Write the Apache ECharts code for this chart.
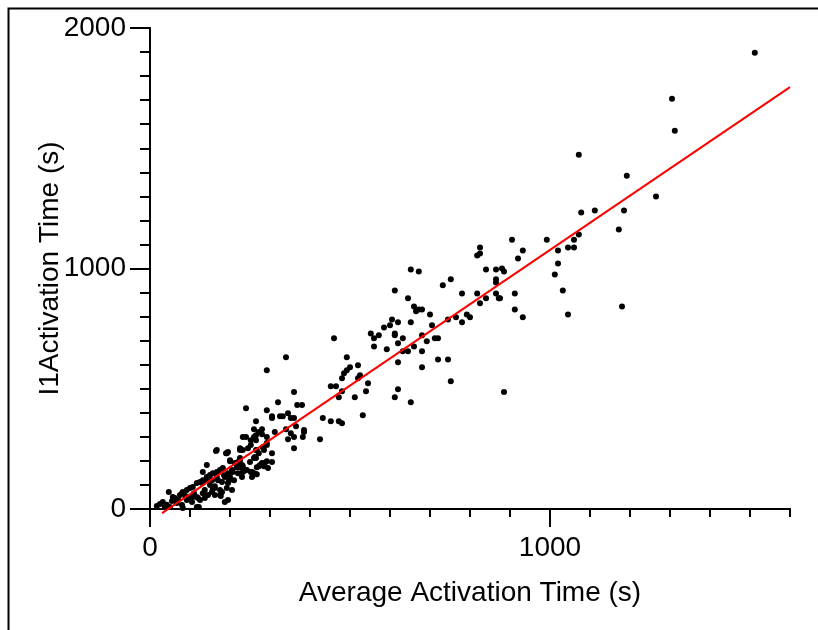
<!DOCTYPE html>
<html>
<head>
<meta charset="utf-8">
<script src="https://cdn.jsdelivr.net/npm/echarts/dist/echarts.min.js"></script>
<style>
html,body{margin:0;padding:0;background:#fff;}
#chart{width:818px;height:630px;}
</style>
</head>
<body>
<div id="chart"></div>
<script>
// Average activation time (x) and I1 activation time (y), in seconds
const avgActivation = [
  1512,1305,1312,1072,1192,1265,1185,1112,1078,1172,
  1072,1060,1060,1045,992,1020,1020,1012,1032,1045,
  1180,905,932,920,880,885,875,912,912,932,
  885,825,818,825,840,865,865,865,818,825,
  840,865,872,732,752,780,745,765,780,792,
  800,705,700,652,672,612,645,660,665,680,
  672,605,620,585,600,552,572,560,612,612,
  632,652,680,712,720,692,620,592,560,660,
  632,645,680,620,680,720,745,752,460,492,
  500,485,480,520,525,520,545,452,465,472,
  480,512,540,620,612,652,532,432,452,472,
  480,380,385,340,292,240,492,360,320,368,
  292,305,305,325,332,345,352,360,265,280,
  272,280,260,312,340,352,345,360,385,382,
  365,425,360,292,260,265,252,232,240,232,
  245,252,265,272,292,285,305,260,265,280,
  292,272,285,232,232,252,265,225,225,225,
  265,165,190,200,47,32,25,17,37,50,
  62,75,82,92,100,107,117,125,132,142,
  150,157,167,175,182,67,80,82,92,105,
  117,125,132,137,117,145,155,162,162,175,
  180,192,195,195,200,207,212,220,225,237,
  230,255,187,142,132,122,205,177,157,197,
  217,220,235,260,267,55,70,88,110,42,
  97,150,170,185,210,57,80,107,120,137,
  130,142,155,167,175,162,180,187,195,205,
  200,192,195,167,217,225,230,250,242,255,
  267,275,262,267,282,292,287,295,305
];
const l1Activation = [
  1897,1706,1573,1473,1386,1299,1241,1241,1233,1162,
  1141,1120,1087,1087,1120,1075,1021,975,909,809,
  842,1120,1075,1042,1000,988,876,896,830,797,
  486,1087,1054,1062,996,996,955,942,896,855,
  876,896,876,930,955,896,788,797,776,809,
  797,764,809,996,988,909,876,842,822,830,
  830,788,776,755,764,730,722,710,730,722,
  710,776,722,710,710,697,689,664,676,676,
  656,656,656,610,589,622,622,531,710,631,
  589,564,544,598,556,544,523,510,510,465,
  490,465,490,498,465,444,390,378,365,365,
  357,432,328,631,577,419,577,486,444,432,
  411,386,378,386,386,398,378,378,365,332,
  320,311,332,320,332,315,290,299,320,299,
  344,290,253,299,299,286,286,299,299,245,
  253,266,245,232,266,245,232,212,212,191,
  199,178,178,178,154,154,145,245,253,212,
  307,241,232,199,71,29,21,12,8,8,
  46,58,71,79,87,91,108,112,120,133,
  141,149,154,162,170,25,17,4,37,29,
  50,37,66,46,8,58,71,87,58,58,
  71,87,37,108,133,154,191,149,174,162,
  133,154,29,183,154,8,79,54,83,116,
  174,195,158,149,145,33,41,55,66,18,
  45,100,120,140,120,50,66,50,46,79,
  108,120,120,133,79,95,112,133,149,162,
  203,232,237,245,191,203,183,195,162,133,
  174,183,216,245,257,274,191,170,195
];
// Fitted regression line end points
const fitX = [30, 1600];
const fitY = [-17, 1754];
// Tick labels and tick positions
const xTickLabels = [0, 1000];
const yTickLabels = [0, 1000, 2000];
const xMinorTicks = [0,100,200,300,400,500,600,700,800,900,1000,1100,1200,1300,1400,1500,1600];
const yMinorTicks = [0,100,200,300,400,500,600,700,800,900,1000,1100,1200,1300,1400,1500,1600,1700,1800,1900,2000];

const points = avgActivation.map((x, i) => [x, l1Activation[i]]);
const fitLine = fitX.map((x, i) => [x, fitY[i]]);

const FONT = 'Liberation Sans, Arial, sans-serif';
const black = '#000';
const plain = v => String(v);

const chart = echarts.init(document.getElementById('chart'), null, {renderer: 'canvas'});
chart.setOption({
  animation: false,
  backgroundColor: '#fff',
  grid: {left: 150, top: 28, right: 28, bottom: 121, containLabel: false},
  graphic: [{
    type: 'rect', left: 6, top: 6, z: -10,
    shape: {x: 0, y: 0, width: 900, height: 700},
    style: {fill: 'none', stroke: black, lineWidth: 2}
  }],
  xAxis: [
    {
      type: 'value', min: 0, max: 1600, position: 'bottom',
      name: 'Average Activation Time (s)', nameLocation: 'middle', nameGap: 70,
      nameMoveOverlap: false,
      nameTextStyle: {fontFamily: FONT, fontSize: 28, color: black},
      axisLine: {show: true, lineStyle: {color: black, width: 2}},
      axisTick: {show: true, customValues: xMinorTicks, length: 8, lineStyle: {color: black, width: 2}},
      axisLabel: {show: true, customValues: xTickLabels, formatter: plain, margin: 25, fontFamily: FONT, fontSize: 28, color: black},
      splitLine: {show: false}
    },
    {
      type: 'value', min: 0, max: 1600, position: 'bottom',
      axisLine: {show: false},
      axisTick: {show: true, customValues: xTickLabels, length: 18, lineStyle: {color: black, width: 2}},
      axisLabel: {show: false}, splitLine: {show: false}
    },
    {
      type: 'value', min: 0, max: 1600, position: 'top',
      axisLine: {show: true, lineStyle: {color: black, width: 2}},
      axisTick: {show: false}, axisLabel: {show: false}, splitLine: {show: false}
    }
  ],
  yAxis: [
    {
      type: 'value', min: 0, max: 2000, position: 'left',
      name: 'I1Activation Time (s)', nameLocation: 'middle', nameGap: 86, nameRotate: 90,
      nameMoveOverlap: false,
      nameTextStyle: {fontFamily: FONT, fontSize: 28, color: black},
      axisLine: {show: true, lineStyle: {color: black, width: 2}},
      axisTick: {show: true, customValues: yMinorTicks, length: 10, lineStyle: {color: black, width: 2}},
      axisLabel: {show: true, customValues: yTickLabels, formatter: plain, margin: 24, fontFamily: FONT, fontSize: 28, color: black},
      splitLine: {show: false}
    },
    {
      type: 'value', min: 0, max: 2000, position: 'left',
      axisLine: {show: false},
      axisTick: {show: true, customValues: yTickLabels, length: 20, lineStyle: {color: black, width: 2}},
      axisLabel: {show: false}, splitLine: {show: false}
    },
    {
      type: 'value', min: 0, max: 2000, position: 'right',
      axisLine: {show: true, lineStyle: {color: black, width: 2}},
      axisTick: {show: false}, axisLabel: {show: false}, splitLine: {show: false}
    }
  ],
  series: [
    {
      type: 'scatter', xAxisIndex: 0, yAxisIndex: 0,
      data: points, symbol: 'circle', symbolSize: 6,
      itemStyle: {color: black, opacity: 1}, z: 3
    },
    {
      type: 'line', xAxisIndex: 0, yAxisIndex: 0,
      data: fitLine, symbol: 'none', clip: false,
      lineStyle: {color: '#ff0000', width: 2}, z: 4
    }
  ]
});
</script>
</body>
</html>
